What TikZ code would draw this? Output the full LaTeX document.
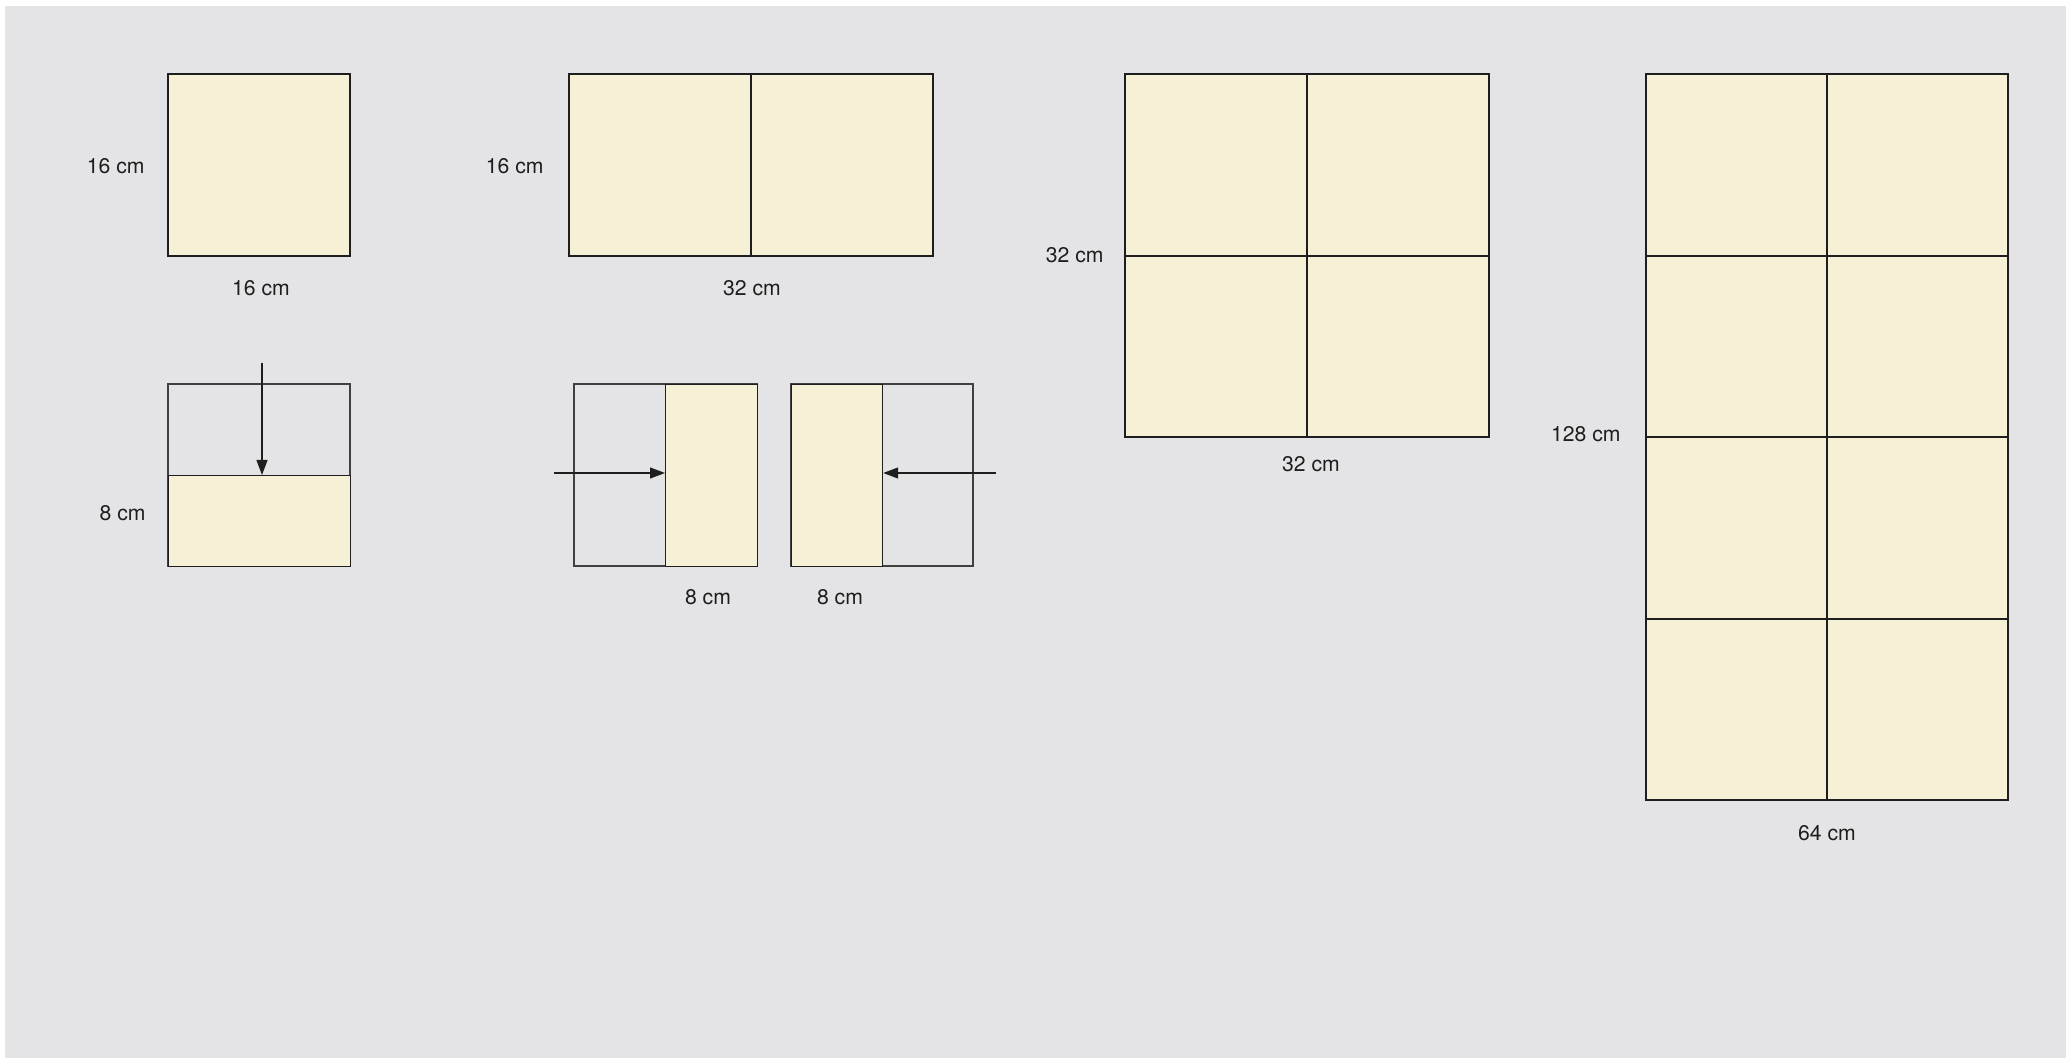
\documentclass[tikz,border=0pt]{standalone}
\usepackage{fontspec}
\setmainfont{TeX Gyre Heros}
\usetikzlibrary{arrows.meta}
\definecolor{bgc}{RGB}{228,228,230}
\definecolor{paper}{RGB}{246,241,214}
\definecolor{ink}{RGB}{30,30,30}
\tikzset{
  cell/.style={draw=ink, line width=0.6pt, fill=paper},
  ghost/.style={draw=ink!85, line width=0.6pt},
  grid/.style={draw=ink, line width=0.6pt},
  lab/.style={font=\fontsize{10.6}{12}\selectfont, text=ink, inner sep=0pt},
  push/.style={draw=ink, line width=0.6pt, -{Triangle[length=7.5pt,width=5.5pt]}},
  piece/.style={cell, rectangle, inner sep=0pt, anchor=north west}
}
\begin{document}
\begin{tikzpicture}[x=0.5pt,y=-0.5pt]
\useasboundingbox (0,0) rectangle (2066,1058);
\fill[white] (0,0) rectangle (2066,1058);
\fill[bgc] (5,6) rectangle (2066,1058);

% Row 1
\draw[cell] (168,74) rectangle (350,256);
\node[lab, anchor=east] (l1a) at (145,166) {16 cm};
\node[lab] (l1b) at (261,288) {16 cm};

\draw[cell] (569,74) rectangle (933,256);
\draw[grid] (751,74) -- (751,256);
\node[lab, anchor=east] (l2a) at (544,166) {16 cm};
\node[lab] (l2b) at (752,288) {32 cm};

\draw[cell] (1125,74) rectangle (1489,437);
\draw[grid] (1307,74) -- (1307,437);
\draw[grid] (1125,256) -- (1489,256);
\node[lab, anchor=east] (l3a) at (1104,255) {32 cm};
\node[lab] (l3b) at (1311,464) {32 cm};

\draw[cell] (1646,74) rectangle (2008,800);
\draw[grid] (1827,74) -- (1827,800);
\draw[grid] (1646,256) -- (2008,256);
\draw[grid] (1646,437) -- (2008,437);
\draw[grid] (1646,619) -- (2008,619);
\node[lab, anchor=east] (l4a) at (1621,434) {128 cm};
\node[lab] (l4b) at (1827,833) {64 cm};

% Row 2
\draw[ghost] (168,384) rectangle (350,566);
\node[piece, minimum width=91pt, minimum height=45.5pt] (e) at (168,475) {};
\coordinate (es) at (262,363);
\draw[push] (es) -- (e.north -| es);
\node[lab, anchor=east] (l5) at (146,513) {8 cm};

\draw[ghost] (574,384) rectangle (757,566);
\node[piece, minimum width=46pt, minimum height=91pt] (f) at (665,384) {};
\coordinate (fs) at (554,473);
\draw[push] (fs) -- (f.west |- fs);
\node[lab] (l6) at (708,597) {8 cm};

\draw[ghost] (791,384) rectangle (973,566);
\node[piece, minimum width=45.5pt, minimum height=91pt] (g) at (791,384) {};
\coordinate (gs) at (996,473);
\draw[push] (gs) -- (g.east |- gs);
\node[lab] (l7) at (840,597) {8 cm};
\end{tikzpicture}
\end{document}
